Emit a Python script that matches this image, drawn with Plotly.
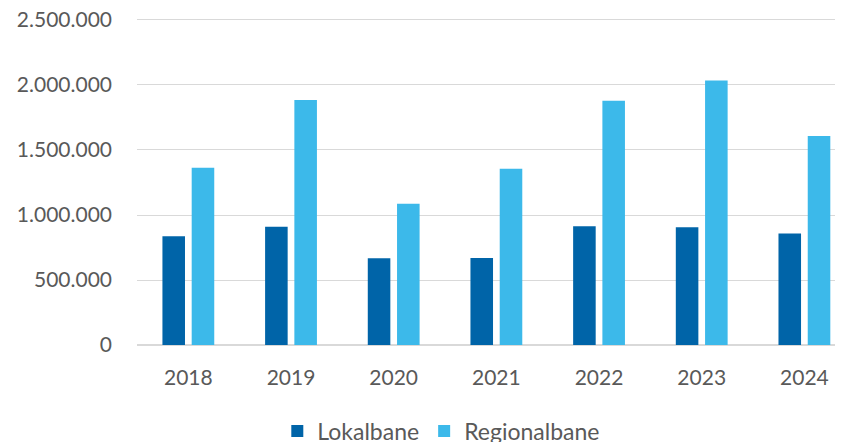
import plotly.graph_objects as go

years = ["2018", "2019", "2020", "2021", "2022", "2023", "2024"]
lokalbane = [836000, 910000, 667000, 670000, 913000, 905000, 857000]
regionalbane = [1363000, 1884000, 1087000, 1355000, 1879000, 2035000, 1608000]
y_ticks = [0, 500000, 1000000, 1500000, 2000000, 2500000]

fig = go.Figure()
fig.add_trace(go.Bar(name="Lokalbane", x=years, y=lokalbane, marker_color="#0064A8",
                     marker_line_width=0))
fig.add_trace(go.Bar(name="Regionalbane", x=years, y=regionalbane, marker_color="#3CB9EA",
                     marker_line_width=0))

fig.update_layout(
    width=843, height=442,
    margin=dict(l=129, r=8, t=9, b=105),
    plot_bgcolor="white", paper_bgcolor="white",
    barmode="group", bargap=0.43, bargroupgap=0.229,
    separators=",.",
    font=dict(family="Lato, Noto Sans, sans-serif", color="#595959", size=21),
    xaxis=dict(range=[-0.5, 6.376], showgrid=False, showline=False, ticks="",
               ticklabelstandoff=18, automargin=False,
               tickfont=dict(size=21, color="#595959")),
    yaxis=dict(range=[0, 2523000], tickvals=y_ticks, tickformat=",d",
               showgrid=True, gridcolor="#d9d9d9", gridwidth=1.3,
               zeroline=True, zerolinecolor="#d9d9d9", zerolinewidth=1.5,
               ticks="", ticklabelstandoff=24, automargin=False,
               ticklabeloverflow="allow",
               tickfont=dict(size=21, color="#595959")),
    legend=dict(orientation="h", xref="container", x=0.514, xanchor="center",
                yref="container", y=0.043, yanchor="middle",
                font=dict(size=23, color="#595959"), itemwidth=30),
    showlegend=True,
)

fig.write_html("out.html")
